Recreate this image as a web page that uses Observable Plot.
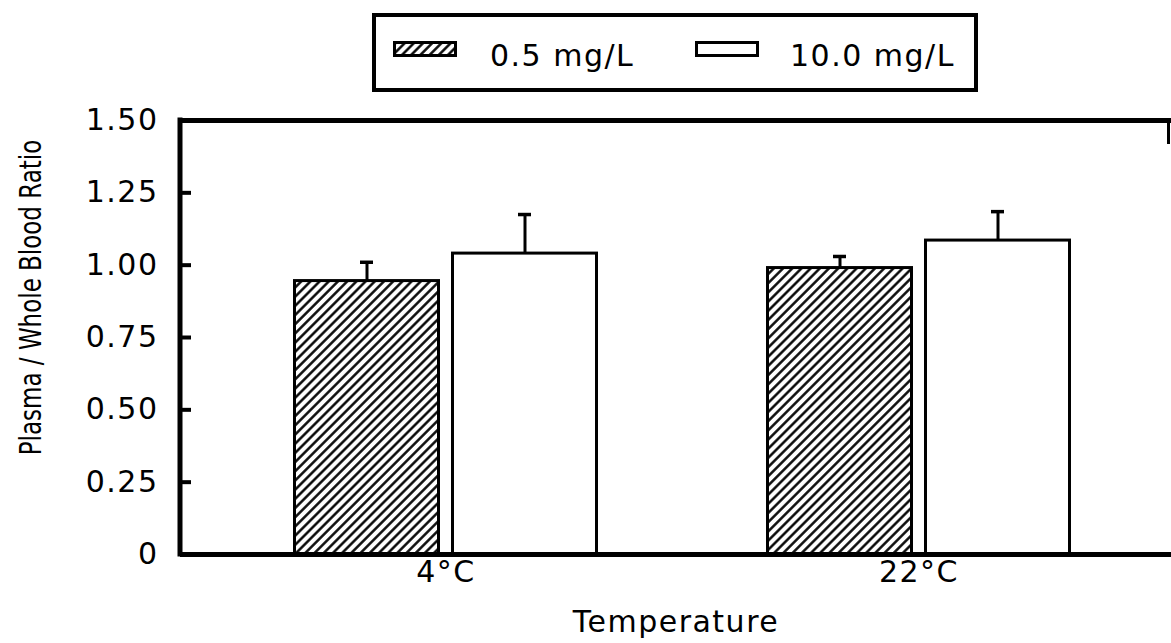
<!DOCTYPE html>
<html>
<head>
<meta charset="utf-8">
<script src="https://cdn.jsdelivr.net/npm/d3@7"></script>
<script src="https://cdn.jsdelivr.net/npm/@observablehq/plot@0.6"></script>
<style>
  body { margin: 0; background: #fff; font-family: "DejaVu Sans", sans-serif; color: #000; }
  #legend { position: relative; height: 100px; width: 1171px; }
  #legend .box { position: absolute; left: 372px; top: 13px; width: 598px; height: 71px; border: 4px solid #000; }
  #legend .sw { position: absolute; }
  #legend .lab { position: absolute; font-size: 30px; line-height: 30px; white-space: nowrap; letter-spacing: 1.5px; }
  svg { display: block; }
</style>
</head>
<body>
<svg width="0" height="0" style="position:absolute">
  <defs>
    <pattern id="hatch" patternUnits="userSpaceOnUse" width="6.5" height="6.5" patternTransform="rotate(45)">
      <rect width="6.5" height="6.5" fill="#fff"></rect>
      <line x1="3.25" y1="0" x2="3.25" y2="6.5" stroke="#000" stroke-width="2.4"></line>
    </pattern>
  </defs>
</svg>
<div id="legend"></div>
<div id="chart"></div>
<script>
// ---- data ----
const temps = ["4°C", "22°C"];
const doses = ["0.5 mg/L", "10.0 mg/L"];
const mean05 = [0.945, 0.99];
const sd05 = [0.065, 0.04];
const mean10 = [1.04, 1.085];
const sd10 = [0.135, 0.10];
const yTicks = [0, 0.25, 0.5, 0.75, 1.0, 1.25, 1.5];
const yTickLabels = ["0", "0.25", "0.50", "0.75", "1.00", "1.25", "1.50"];
const yLabel = "Plasma / Whole Blood Ratio";
const xLabel = "Temperature";

const rows05 = temps.map((t, i) => ({temp: t, mean: mean05[i], upper: mean05[i] + sd05[i]}));
const rows10 = temps.map((t, i) => ({temp: t, mean: mean10[i], upper: mean10[i] + sd10[i]}));

// ---- legend ----
const legendEl = document.getElementById("legend");
legendEl.innerHTML = `
  <div class="box"></div>
  <svg class="sw" style="left:393px;top:41px" width="64" height="16"><rect x="1.5" y="1.5" width="61" height="13" fill="url(#hatch)" stroke="#000" stroke-width="3"></rect></svg>
  <div class="lab" style="left:490px;top:41px">${doses[0]}</div>
  <svg class="sw" style="left:695px;top:41px" width="64" height="16"><rect x="1.5" y="1.5" width="61" height="13" fill="#fff" stroke="#000" stroke-width="3"></rect></svg>
  <div class="lab" style="left:790px;top:41px">${doses[1]}</div>`;

// ---- chart ----
const chart = Plot.plot({
  width: 1171,
  height: 543,
  marginLeft: 180,
  marginRight: 0,
  marginTop: 20,
  marginBottom: 89,
  style: {fontFamily: '"DejaVu Sans", sans-serif', fontSize: "30px", color: "#000", background: "#fff", overflow: "visible", letterSpacing: "1.5px"},
  x: {domain: temps, paddingInner: 0.356, paddingOuter: 0.2245, align: 0.531, label: null},
  y: {domain: [0, 1.5], label: null},
  marks: [
    Plot.barY(rows05, {x: "temp", y: "mean", fill: "url(#hatch)", stroke: "#000", strokeWidth: 3, insetLeft: 1.5, insetRight: 159.5}),
    Plot.barY(rows10, {x: "temp", y: "mean", fill: "#fff", stroke: "#000", strokeWidth: 3, insetLeft: 159.5, insetRight: 1.5}),
    Plot.ruleX(rows05, {x: "temp", y1: "mean", y2: "upper", dx: -79, stroke: "#000", strokeWidth: 3}),
    Plot.ruleX(rows10, {x: "temp", y1: "mean", y2: "upper", dx: 79, stroke: "#000", strokeWidth: 3}),
    Plot.tickY(rows05, {x: "temp", y: "upper", insetLeft: 67, insetRight: 225, stroke: "#000", strokeWidth: 3.5}),
    Plot.tickY(rows10, {x: "temp", y: "upper", insetLeft: 225, insetRight: 67, stroke: "#000", strokeWidth: 3.5}),
    Plot.ruleY([0, 1.5], {stroke: "#000", strokeWidth: 5}),
    Plot.axisY({ticks: yTicks, tickSize: -11, tickFormat: () => "", stroke: "#000", strokeWidth: 4}),
    Plot.axisY({ticks: yTicks, tickSize: 0, tickPadding: 22, tickFormat: d => yTickLabels[yTicks.indexOf(d)], fontSize: 30, fill: "#000"}),
    Plot.axisX({tickSize: 0, tickPadding: 6, label: null, fontSize: 30, fill: "#000"}),
    Plot.text([yLabel], {frameAnchor: "left", textAnchor: "middle", lineAnchor: "middle", rotate: -90, dx: -149, dy: -40, fontSize: 23, fill: "#000"}),
    Plot.text([xLabel], {frameAnchor: "bottom", textAnchor: "middle", lineAnchor: "middle", dy: 68, fontSize: 30, fill: "#000"})
  ]
});

// the reference type is wider than tall: thicken the rotated y label across its baseline
d3.select(chart).selectAll("text")
  .filter(function () { return this.textContent === yLabel; })
  .each(function () {
    const t = this.getAttribute("transform") || "";
    this.setAttribute("transform", t + " scale(1,1.3)");
    this.style.letterSpacing = "0px";
  });

// frame lines not carried by an axis: the left spine and the short right-hand stub, placed from the scales
const yScale = chart.scale("y");
const xRange = chart.scale("x").range;
const yTopPx = yScale.apply(1.5);
const yZeroPx = yScale.apply(0);
const svgSel = d3.select(chart);
svgSel.append("line")
  .attr("x1", xRange[0]).attr("x2", xRange[0])
  .attr("y1", yTopPx - 2.5).attr("y2", yZeroPx + 2.5)
  .attr("stroke", "#000").attr("stroke-width", 5);
svgSel.append("line")
  .attr("x1", xRange[1] - 2.5).attr("x2", xRange[1] - 2.5)
  .attr("y1", yTopPx).attr("y2", yTopPx + 24)
  .attr("stroke", "#000").attr("stroke-width", 3);

document.getElementById("chart").appendChild(chart);
</script>
</body>
</html>
